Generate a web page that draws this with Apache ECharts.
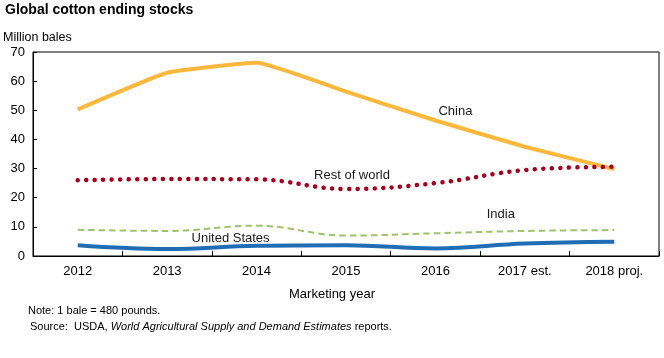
<!DOCTYPE html>
<html><head><meta charset="utf-8">
<script src="https://cdn.jsdelivr.net/npm/echarts@6/dist/echarts.min.js"></script>
<style>html,body{margin:0;padding:0;background:#fff}#c{width:664px;height:358px}</style>
</head><body><div id="c"></div>
<script>
const categories = ['2012','2013','2014','2015','2016','2017 est.','2018 proj.'];
const china = [50.3, 62.9, 66.3, 56.4, 46.5, 37.5, 29.8];
const restOfWorld = [26.0, 26.4, 26.3, 23.0, 25.0, 29.5, 30.6];
const india = [9.0, 8.6, 10.4, 7.0, 7.8, 8.6, 8.9];
const unitedStates = [3.7, 2.4, 3.5, 3.7, 2.6, 4.3, 4.9];
const yTicks = [0,10,20,30,40,50,60,70];

const chart = echarts.init(document.getElementById('c'), null, {renderer:'canvas'});
const font = 'Liberation Sans, Arial, sans-serif';
function lbl(text, cat, val, off){
  return {silent:true, symbol:'rect', symbolSize:1, itemStyle:{color:'rgba(0,0,0,0)'},
    data:[{coord:[cat,val], label:{show:true, formatter:text, position:'inside', offset:off, color:'#1a1a1a', fontSize:13, fontFamily:font}}]};
}
const t = (text, left, top, size, extra) => Object.assign({text, left, top, padding:0,
  textStyle:Object.assign({fontSize:size, fontWeight:'normal', color:'#000', fontFamily:font}, extra||{})});
chart.setOption({
  animation:false,
  textStyle:{fontFamily:font},
  title:[
    t('Global cotton ending stocks', 5, 3, 14, {fontWeight:'bold'}),
    t('Million bales', 3, 31, 12.5),
    t('Marketing year', 'center', 288, 13),
    t('Note: 1 bale = 480 pounds.', 28, 305, 11),
    t('Source:  USDA, {i|World Agricultural Supply and Demand Estimates} reports.', 30, 321, 11,
      {rich:{i:{fontStyle:'italic', fontSize:11, fontFamily:font, color:'#000'}}})
  ],
  grid:{left:33, right:5, top:52, bottom:102, show:true, borderColor:'#000', borderWidth:1},
  xAxis:{type:'category', data:categories, boundaryGap:true,
    axisLine:{lineStyle:{color:'#000', width:1}},
    axisTick:{show:true, inside:true, length:5, lineStyle:{color:'#000'}},
    axisLabel:{color:'#000', fontSize:13, margin:9, fontFamily:font},
    splitLine:{show:false}},
  yAxis:{type:'value', min:0, max:70, interval:10,
    axisLine:{show:true, lineStyle:{color:'#000', width:1}},
    axisTick:{show:true, inside:true, length:4, lineStyle:{color:'#000'}},
    axisLabel:{color:'#000', fontSize:13, margin:8, fontFamily:font, formatter:v=>yTicks.includes(v)?String(v):''},
    splitLine:{show:false}},
  series:[
    {name:'China', type:'line', data:china, smooth:0.12, symbol:'none',
      lineStyle:{color:'#FBB83C', width:4}, markPoint:lbl('China','2016',49.6,[20,0])},
    {name:'Rest of world', type:'line', data:restOfWorld, smooth:0.4, symbol:'none',
      lineStyle:{color:'#A6001F', width:4.5, type:[0.1,8.4], cap:'round'}, markPoint:lbl('Rest of world','2015',27.5,[6,0])},
    {name:'India', type:'line', data:india, smooth:0.4, symbol:'none',
      lineStyle:{color:'#9DC46A', width:2, type:[6.5,4]}, markPoint:lbl('India','2017 est.',14.4,[-24,0])},
    {name:'United States', type:'line', data:unitedStates, smooth:0.4, symbol:'none',
      lineStyle:{color:'#1F6EB5', width:4}, markPoint:lbl('United States','2014',6.1,[-26,0])}
  ]
});
</script></body></html>
